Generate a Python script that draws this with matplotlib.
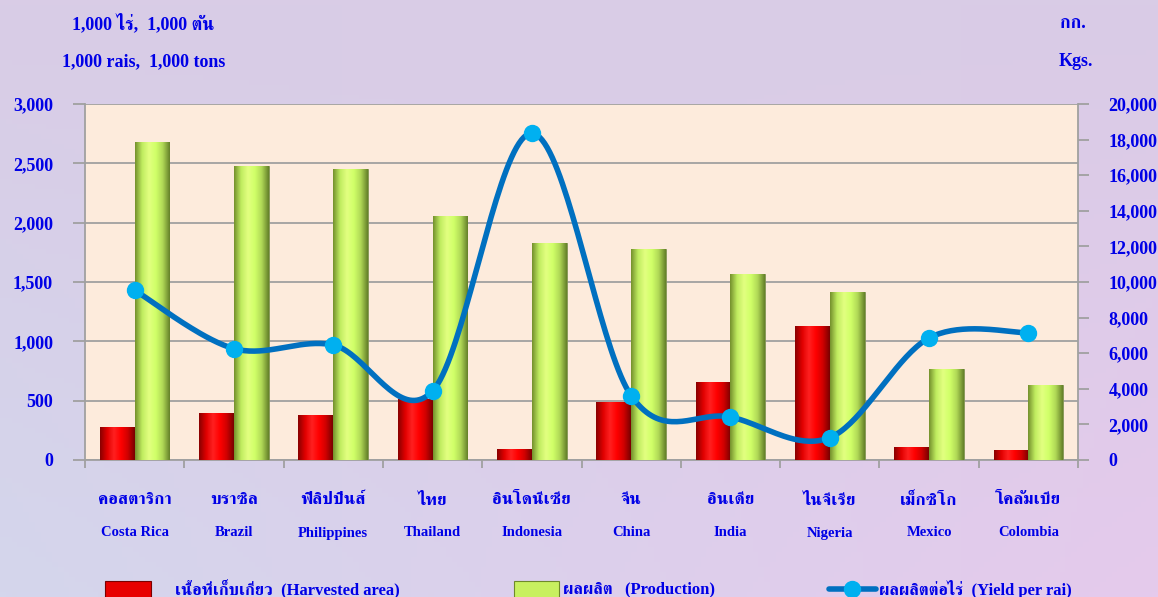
import matplotlib
matplotlib.use('Agg')
import matplotlib.pyplot as plt
import numpy as np
from matplotlib import font_manager as fm
from matplotlib.colors import LinearSegmentedColormap
from matplotlib.patches import Rectangle
from matplotlib.lines import Line2D

# data
countries_th = ['คอสตาริกา', 'บราซิล', 'ฟิลิปปินส์', 'ไทย', 'อินโดนีเซีย',
                'จีน', 'อินเดีย', 'ไนจีเรีย', 'เม็กซิโก', 'โคลัมเบีย']
countries_en = ['Costa Rica', 'Brazil', 'Philippines', 'Thailand', 'Indonesia',
                'China', 'India', 'Nigeria', 'Mexico', 'Colombia']
harvested = [276, 393, 377, 511, 90, 486, 655, 1132, 107, 82]
production = [2680, 2480, 2452, 2059, 1831, 1775, 1565, 1413, 764, 635]
yield_rai = [9534, 6255, 6461, 3876, 18352, 3614, 2416, 1255, 6854, 7152]

left_ticks = [0, 500, 1000, 1500, 2000, 2500, 3000]
right_ticks = list(range(0, 20001, 2000))

# fonts: Times-like for latin, a looped Thai face for the rest
installed = {f.name for f in fm.fontManager.ttflist}
thai_font = 'DejaVu Sans'
for cand in ['Kinnari', 'Norasi', 'TH Sarabun New', 'Garuda', 'FreeSerif', 'Loma']:
    if cand in installed:
        thai_font = cand
        break
FAM = ['Liberation Serif', thai_font]
BLUE = '#0000E6'
GRAY = '#A0A0A0'

W, H = 1158, 597
fig = plt.figure(figsize=(W / 100, H / 100), dpi=100)


def fx(x):
    return x / W


def fy(y):
    return 1 - y / H


# background gradient
bg = fig.add_axes([0, 0, 1, 1], zorder=-10)
bg.axis('off')
gx, gy = np.meshgrid(np.linspace(0, 1, 200), np.linspace(0, 1, 120))
top = np.array([217, 204, 230]) / 255
bot_l = np.array([212, 214, 236]) / 255
bot_r = np.array([229, 202, 236]) / 255
bottom = bot_l[None, None, :] * (1 - gx[..., None]) + bot_r[None, None, :] * gx[..., None]
img = top[None, None, :] * (1 - gy[..., None]) + bottom * gy[..., None]
bg.imshow(img, aspect='auto', extent=(0, 1, 1, 0))
bg.set_xlim(0, 1)
bg.set_ylim(1, 0)

# main axes
x0, x1, y0, y1 = 85, 1078, 104, 460
ax = fig.add_axes([fx(x0), fy(y1), fx(x1 - x0), (y1 - y0) / H])
ax.set_facecolor('#FDEBDC')
n = len(countries_en)
x = np.arange(n) + 0.5
bw = 0.35

red_cmap = LinearSegmentedColormap.from_list(
    'red3d', ['#8A0000', '#E00000', '#FF2020', '#FF0000', '#D00000', '#7A0000'])
green_cmap = LinearSegmentedColormap.from_list(
    'green3d', ['#76922E', '#C0EC60', '#E2FF80', '#D0FF68', '#B0D856', '#66822A'])
grad = np.linspace(0, 1, 64).reshape(1, -1)

red_bars = ax.bar(x - bw / 2, harvested, bw, color='#FF0000', edgecolor='#8A2020',
                  linewidth=0.6, zorder=3)
green_bars = ax.bar(x + bw / 2, production, bw, color='#CCFF66', edgecolor='#7A8A50',
                    linewidth=0.6, zorder=3)
for bars, cmap in [(red_bars, red_cmap), (green_bars, green_cmap)]:
    for b in bars:
        bx, by = b.get_x(), b.get_y()
        im = ax.imshow(grad, cmap=cmap, aspect='auto', zorder=3.5,
                       extent=(bx, bx + b.get_width(), by, by + b.get_height()))
        im.set_clip_path(b)

ax.set_xlim(0, n)
ax.set_ylim(0, 3000)
ax.set_yticks(left_ticks)
ax.set_yticklabels([f'{v:,}' for v in left_ticks])
ax.set_xticks(np.arange(n + 1))
ax.set_xticklabels([])
ax.yaxis.grid(True, color=GRAY, linewidth=1.3, zorder=1)
ax.set_axisbelow(True)
ax.tick_params(axis='y', length=9, width=1.3, color=GRAY, pad=14, labelcolor=BLUE)
ax.tick_params(axis='x', length=6, width=1.3, color=GRAY)
for t in ax.get_yticklabels():
    t.set_fontfamily(FAM)
    t.set_fontweight('bold')
    t.set_fontsize(13)
for s in ['top', 'right']:
    ax.spines[s].set_visible(False)
for s in ['left', 'bottom']:
    ax.spines[s].set_color(GRAY)
    ax.spines[s].set_linewidth(1.3)

# yield line on secondary axis, smoothed like the spreadsheet curve
ax2 = ax.twinx()
ax2.set_ylim(0, 20000)
ax2.set_yticks(right_ticks)
ax2.set_yticklabels([f'{v:,}' for v in right_ticks])
ax2.tick_params(axis='y', length=8, width=1.3, color=GRAY, pad=14, labelcolor=BLUE)
for t in ax2.get_yticklabels():
    t.set_fontfamily(FAM)
    t.set_fontweight('bold')
    t.set_fontsize(13)
for s in ['top', 'left', 'bottom']:
    ax2.spines[s].set_visible(False)
ax2.spines['right'].set_color(GRAY)
ax2.spines['right'].set_linewidth(1.3)

# catmull-rom in screen proportions
sx = (x1 - x0) / n
sy = (y1 - y0) / 20000
px = x * sx
py = np.array(yield_rai) * sy
P = np.column_stack([px, py])
Pe = np.vstack([P[0], P, P[-1]])
curve = []
tt = np.linspace(0, 1, 40)
for i in range(1, len(Pe) - 2):
    p0, p1, p2, p3 = Pe[i - 1], Pe[i], Pe[i + 1], Pe[i + 2]
    c1 = p1 + (p2 - p0) / 6
    c2 = p2 - (p3 - p1) / 6
    for t in tt:
        curve.append((1 - t) ** 3 * p1 + 3 * (1 - t) ** 2 * t * c1
                     + 3 * (1 - t) * t ** 2 * c2 + t ** 3 * p2)
curve = np.array(curve)
ax2.plot(curve[:, 0] / sx, curve[:, 1] / sy, color='#0070C0', linewidth=4,
         solid_capstyle='round', zorder=5)
ax2.plot(x, yield_rai, linestyle='none', marker='o', markersize=11.5,
         color='#00B0F0', zorder=6)
ax2.set_xlim(0, n)

# category labels
for xi, th, en in zip(x, countries_th, countries_en):
    fig.text(fx(x0 + xi * sx), fy(500), th, ha='center', va='center',
             fontsize=12.5, fontweight='bold', family=[thai_font, 'DejaVu Sans'], color=BLUE)
    fig.text(fx(x0 + xi * sx), fy(533), en, ha='center', va='center',
             fontsize=10.5, fontweight='bold', family=FAM, color=BLUE)

# unit labels
fig.text(fx(72), fy(23), '1,000 ไร่,  1,000 ตัน', ha='left', va='center',
         fontsize=13, fontweight='bold', family=FAM, color=BLUE)
fig.text(fx(62), fy(62), '1,000 rais,  1,000 tons', ha='left', va='center',
         fontsize=13, fontweight='bold', family=FAM, color=BLUE)
fig.text(fx(1073), fy(23), 'กก.', ha='center', va='center',
         fontsize=13, fontweight='bold', family=[thai_font, 'DejaVu Sans'], color=BLUE)
fig.text(fx(1076), fy(62), 'Kgs.', ha='center', va='center',
         fontsize=13, fontweight='bold', family=FAM, color=BLUE)

# legend
ly = 589
fig.add_artist(Rectangle((fx(105), fy(600)), fx(46), (600 - 581) / H,
                         facecolor='#E80000', edgecolor='#7A0000', linewidth=0.8))
fig.add_artist(Rectangle((fx(514), fy(600)), fx(45), (600 - 581) / H,
                         facecolor='#C8F060', edgecolor='#6E8A2A', linewidth=0.8))
fig.add_artist(Line2D([fx(829), fx(876)], [fy(ly), fy(ly)], color='#0070C0',
                      linewidth=4, solid_capstyle='round'))
fig.add_artist(Line2D([fx(852)], [fy(ly)], marker='o', markersize=11.5,
                      color='#00B0F0', linestyle='none'))
fig.text(fx(175), fy(ly), 'เนื้อที่เก็บเกี่ยว  (Harvested area)', ha='left', va='center',
         fontsize=12, fontweight='bold', family=FAM, color=BLUE)
fig.text(fx(563), fy(ly), 'ผลผลิต   (Production)', ha='left', va='center',
         fontsize=12, fontweight='bold', family=FAM, color=BLUE)
fig.text(fx(879), fy(ly), 'ผลผลิตต่อไร่  (Yield per rai)', ha='left', va='center',
         fontsize=12, fontweight='bold', family=FAM, color=BLUE)

fig.savefig('out.png', dpi=100)
